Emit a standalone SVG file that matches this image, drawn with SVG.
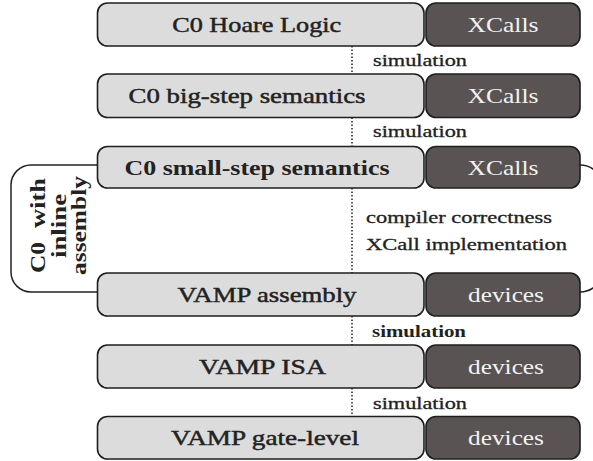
<svg xmlns="http://www.w3.org/2000/svg" width="593" height="461" viewBox="0 0 593 461">
  <style>
    .layer { fill: #dcdcdc; stroke: #1e1e1e; stroke-width: 1.6; }
    .ext { fill: #595453; stroke: #1e1e1e; stroke-width: 1.6; }
    .t { font-family: "Liberation Serif", "Times New Roman", serif; fill: #222; }
    .big { font-size: 21px; text-anchor: middle; stroke: #222; stroke-width: 0.45; }
    .big.b { font-weight: bold; stroke: none; }
    .lt { font-family: "Liberation Serif", "Times New Roman", serif; font-size: 21px; fill: #f2f2f2; text-anchor: middle; }
    .sm { font-size: 16.5px; stroke: #222; stroke-width: 0.3; }
    .sm.b { font-weight: bold; stroke: none; }
    .conn { fill: none; stroke: #222; stroke-width: 1.5; }
    .dot { stroke-dasharray: 1.5 2; }
    .vt { font-size: 20px; font-weight: bold; }
  </style>

  <!-- connectors: refinement links and the inline-assembly bracket -->
  <g id="connectors">
    <line class="conn dot" x1="352" y1="46" x2="352" y2="74"/>
    <line class="conn dot" x1="352" y1="117.5" x2="352" y2="146.5"/>
    <line class="conn dot" x1="352" y1="188" x2="352" y2="273"/>
    <line class="conn dot" x1="352" y1="316" x2="352" y2="345"/>
    <line class="conn dot" x1="352" y1="388" x2="352" y2="416.5"/>
    <path class="conn" d="M97,165 H31 A20,20 0 0 0 11,185 V272 A20,20 0 0 0 31,292 H97"/>
    <path class="conn" d="M580,165 A23,23 0 0 1 603,188 V269 A23,23 0 0 1 580,292"/>
    <text class="t sm" x="373" y="65.5" textLength="94" lengthAdjust="spacingAndGlyphs">simulation</text>
    <text class="t sm" x="373" y="136.5" textLength="94" lengthAdjust="spacingAndGlyphs">simulation</text>
    <text class="t sm" x="366" y="223" textLength="186" lengthAdjust="spacingAndGlyphs">compiler correctness</text>
    <text class="t sm" x="366" y="250" textLength="201" lengthAdjust="spacingAndGlyphs">XCall implementation</text>
    <text class="t sm b" x="372" y="337" textLength="94" lengthAdjust="spacingAndGlyphs">simulation</text>
    <text class="t sm" x="373" y="408.5" textLength="94" lengthAdjust="spacingAndGlyphs">simulation</text>
  </g>

  <g id="hoare">
    <rect class="layer" x="97.5" y="3" width="326.5" height="43" rx="10"/>
    <text class="t big" x="256.7" y="32" textLength="169" lengthAdjust="spacingAndGlyphs">C0 Hoare Logic</text>
    <rect class="ext" x="426" y="3" width="154" height="43" rx="10"/>
    <text class="lt" x="503" y="32" textLength="71" lengthAdjust="spacingAndGlyphs">XCalls</text>
  </g>

  <g id="bigstep">
    <rect class="layer" x="97.5" y="74" width="326.5" height="43.5" rx="10"/>
    <text class="t big" x="247" y="103" textLength="237" lengthAdjust="spacingAndGlyphs">C0 big-step semantics</text>
    <rect class="ext" x="426" y="74" width="154" height="43.5" rx="10"/>
    <text class="lt" x="503" y="103" textLength="71" lengthAdjust="spacingAndGlyphs">XCalls</text>
  </g>

  <g id="smallstep">
    <rect class="layer" x="97.5" y="146.5" width="326.5" height="41.5" rx="10"/>
    <text class="t big b" x="257" y="175" textLength="265" lengthAdjust="spacingAndGlyphs">C0 small-step semantics</text>
    <rect class="ext" x="426" y="146.5" width="154" height="41.5" rx="10"/>
    <text class="lt" x="503" y="175" textLength="71" lengthAdjust="spacingAndGlyphs">XCalls</text>
  </g>

  <g id="inline-asm">
    <text class="t vt" transform="translate(45,273) rotate(-90)" textLength="31" lengthAdjust="spacingAndGlyphs">C0</text>
    <text class="t vt" transform="translate(45,178) rotate(-90)" text-anchor="end" textLength="50" lengthAdjust="spacingAndGlyphs">with</text>
    <text class="t vt" transform="translate(65.5,226) rotate(-90)" text-anchor="middle" textLength="64" lengthAdjust="spacingAndGlyphs">inline</text>
    <text class="t vt" transform="translate(86,275) rotate(-90)" textLength="99" lengthAdjust="spacingAndGlyphs">assembly</text>
  </g>

  <g id="vamp-asm">
    <rect class="layer" x="97.5" y="273" width="326.5" height="43" rx="10"/>
    <text class="t big" x="267" y="302" textLength="179" lengthAdjust="spacingAndGlyphs">VAMP assembly</text>
    <rect class="ext" x="426" y="273" width="154" height="43" rx="10"/>
    <text class="lt" x="506" y="302" textLength="76" lengthAdjust="spacingAndGlyphs">devices</text>
  </g>

  <g id="vamp-isa">
    <rect class="layer" x="97.5" y="345" width="326.5" height="43" rx="10"/>
    <text class="t big" x="262.5" y="374" textLength="127" lengthAdjust="spacingAndGlyphs">VAMP ISA</text>
    <rect class="ext" x="426" y="345" width="154" height="43" rx="10"/>
    <text class="lt" x="506" y="374" textLength="76" lengthAdjust="spacingAndGlyphs">devices</text>
  </g>

  <g id="vamp-gate">
    <rect class="layer" x="97.5" y="416.5" width="326.5" height="42.5" rx="10"/>
    <text class="t big" x="265" y="445" textLength="188" lengthAdjust="spacingAndGlyphs">VAMP gate-level</text>
    <rect class="ext" x="426" y="416.5" width="154" height="42.5" rx="10"/>
    <text class="lt" x="506" y="445" textLength="76" lengthAdjust="spacingAndGlyphs">devices</text>
  </g>
</svg>
